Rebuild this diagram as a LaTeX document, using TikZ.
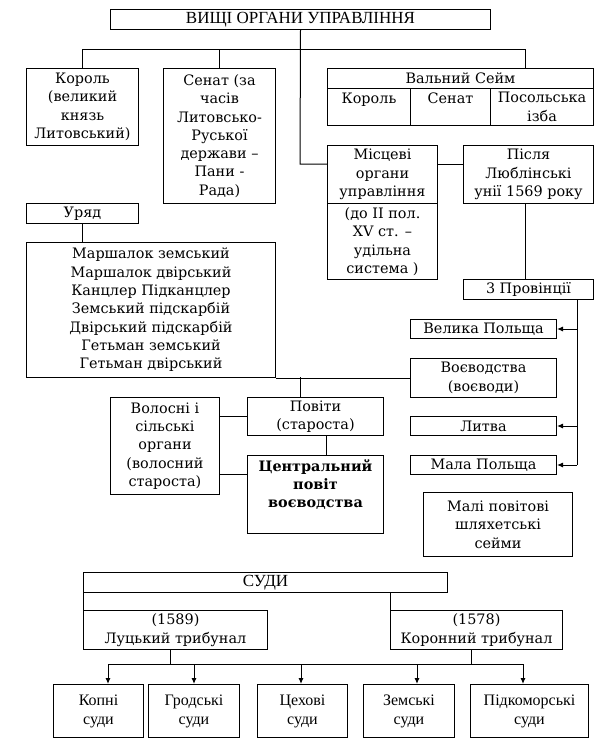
\documentclass[tikz,border=0pt]{standalone}
\usepackage{fontspec}
\setmainfont{DejaVu Serif}
\newfontfamily\timesfont{Liberation Serif}
\usetikzlibrary{arrows.meta}

\begin{document}
\begin{tikzpicture}[x=1pt, y=-1pt,
    box/.style={draw, line width=1pt, anchor=north west, align=center, inner sep=1pt,
        font=\fontsize{14.4pt}{18.3pt}\selectfont},
    headbox/.style={box, font=\timesfont\fontsize{17pt}{20pt}\selectfont},
    courtbox/.style={box, font=\timesfont\fontsize{16pt}{19pt}\selectfont},
    link/.style={line width=1pt},
    arr/.style={link, -{Latex[length=6pt, width=5pt]}}]
\useasboundingbox (0,0) rectangle (600,750);

% Higher bodies
\node[headbox, minimum width=380, minimum height=20] (top) at (110,9) {ВИЩІ ОРГАНИ УПРАВЛІННЯ};
\node[box, minimum width=112, minimum height=77] (korol) at (26,68) {Король\\(великий\\князь\\Литовський)};
\node[box, minimum width=112, minimum height=135] (senat) at (163,68) {Сенат (за\\часів\\Литовсько-\\Руської\\держави –\\Пани -\\Рада)};
\node[box, minimum width=266, minimum height=20] (seim) at (327,68) {Вальний Сейм};
\node[box, minimum width=83, minimum height=37, text depth=17pt] (seimk) at (327,88) {Король};
\node[box, minimum width=80, minimum height=37, text depth=17pt] (seims) at (410,88) {Сенат};
\node[box, minimum width=103, minimum height=37] (seimp) at (490,88) {Посольська\\ізба};

% Local bodies
\node[box, minimum width=110, minimum height=58] (misc) at (327,145) {Місцеві\\органи\\управління};
\node[box, minimum width=110, minimum height=76] (miscdo) at (327,203) {(до II пол.\\XV ст. –\\удільна\\система )};
\node[box, minimum width=130, minimum height=58] (pislia) at (463,145) {Після\\Люблінські\\унії 1569 року};
\node[box, minimum width=130, minimum height=20] (prov) at (463,279) {3 Провінції};
\node[box, minimum width=146, minimum height=19] (velyka) at (410,319) {Велика Польща};
\node[box, minimum width=146, minimum height=39] (voiev) at (410,358) {Воєводства\\(воєводи)};
\node[box, minimum width=146, minimum height=19] (lytva) at (410,416) {Литва};
\node[box, minimum width=146, minimum height=19] (mala) at (410,455) {Мала Польща};
\node[box, minimum width=149, minimum height=64] (sejmyky) at (423,492) {Малі повітові\\шляхетські\\сейми};

% Government
\node[box, minimum width=112, minimum height=20] (uriad) at (26,203) {Уряд};
\node[box, minimum width=249, minimum height=135] (posady) at (26,242) {Маршалок земський\\Маршалок двірський\\Канцлер Підканцлер\\Земський підскарбій\\Двірський підскарбій\\Гетьман земський\\Гетьман двірський};
\node[box, minimum width=109, minimum height=97] (volosni) at (110,397) {Волосні і\\сільські\\органи\\(волосний\\староста)};
\node[box, minimum width=136, minimum height=38] (povity) at (247,397) {Повіти\\(староста)};
\node[box, minimum width=136, minimum height=78, text depth=22pt, font=\bfseries\fontsize{14.4pt}{18.3pt}\selectfont] (centr) at (247,455) {Центральний\\повіт\\воєводства};

% Courts
\node[headbox, minimum width=364, minimum height=20] (sudy) at (83,572) {СУДИ};
\node[box, minimum width=184, minimum height=39] (lutsk) at (83,610) {(1589)\\Луцький трибунал};
\node[box, minimum width=172, minimum height=39] (koron) at (390,610) {(1578)\\Коронний трибунал};
\node[courtbox, minimum width=90, minimum height=53] (kopni) at (53,684) {Копні\\суди};
\node[courtbox, minimum width=91, minimum height=53] (grod) at (148,684) {Гродські\\суди};
\node[courtbox, minimum width=90, minimum height=53] (tsekh) at (257,684) {Цехові\\суди};
\node[courtbox, minimum width=91, minimum height=53] (zem) at (363,684) {Земські\\суди};
\node[courtbox, minimum width=118, minimum height=53] (pidkom) at (470,684) {Підкоморські\\суди};

% Connectors of the higher bodies
\coordinate (bus) at (300,49);
\coordinate (seimdrop) at (525,49);
\coordinate (turn) at (300,164);
\draw[link] (top.south) -- (turn) -- (misc.west |- turn);
\draw[link] (korol.north) |- (seimdrop) -- (seimdrop |- seim.north);
\draw[link] (senat.north) -- (senat.north |- bus);
\draw[link] (misc.east |- turn) -- (pislia.west |- turn);
\draw[link] (pislia.south -| seimdrop) -- (prov.north -| seimdrop);

% Arrows to the provinces
\coordinate (pv) at (577,299);
\draw[link] (pv) -- (pv |- mala.east);
\foreach \n in {velyka, lytva, mala}
    \draw[arr] (pv |- \n.east) -- (\n.east);

% Government and districts
\coordinate (pdrop) at (300,377);
\draw[link] (uriad.south) -- (uriad.south |- posady.north);
\draw[link] (posady.south east) -- (voiev.west);
\draw[link] (pdrop) -- (pdrop |- povity.north);
\draw[link] (326,435) -- (326,455);
\draw[link] (volosni.east |- 0,416) -- (povity.west |- 0,416);
\draw[link] (volosni.east |- 0,474) -- (centr.west |- 0,474);

% Courts
\coordinate (cbus) at (108,664);
\draw[link] (sudy.south west) -- (lutsk.north west);
\draw[link] (sudy.south -| koron.north west) -- (koron.north west);
\draw[link] (lutsk.south -| 170,0) -- (170,664);
\draw[link] (koron.south -| 471,0) -- (471,664);
\draw[link] (cbus) -- (523,664);
\foreach \n/\x in {kopni/108, grod/194, tsekh/301, zem/417, pidkom/523}
    \draw[arr] (\x,664) -- (\n.north -| \x,0);
\end{tikzpicture}
\end{document}
